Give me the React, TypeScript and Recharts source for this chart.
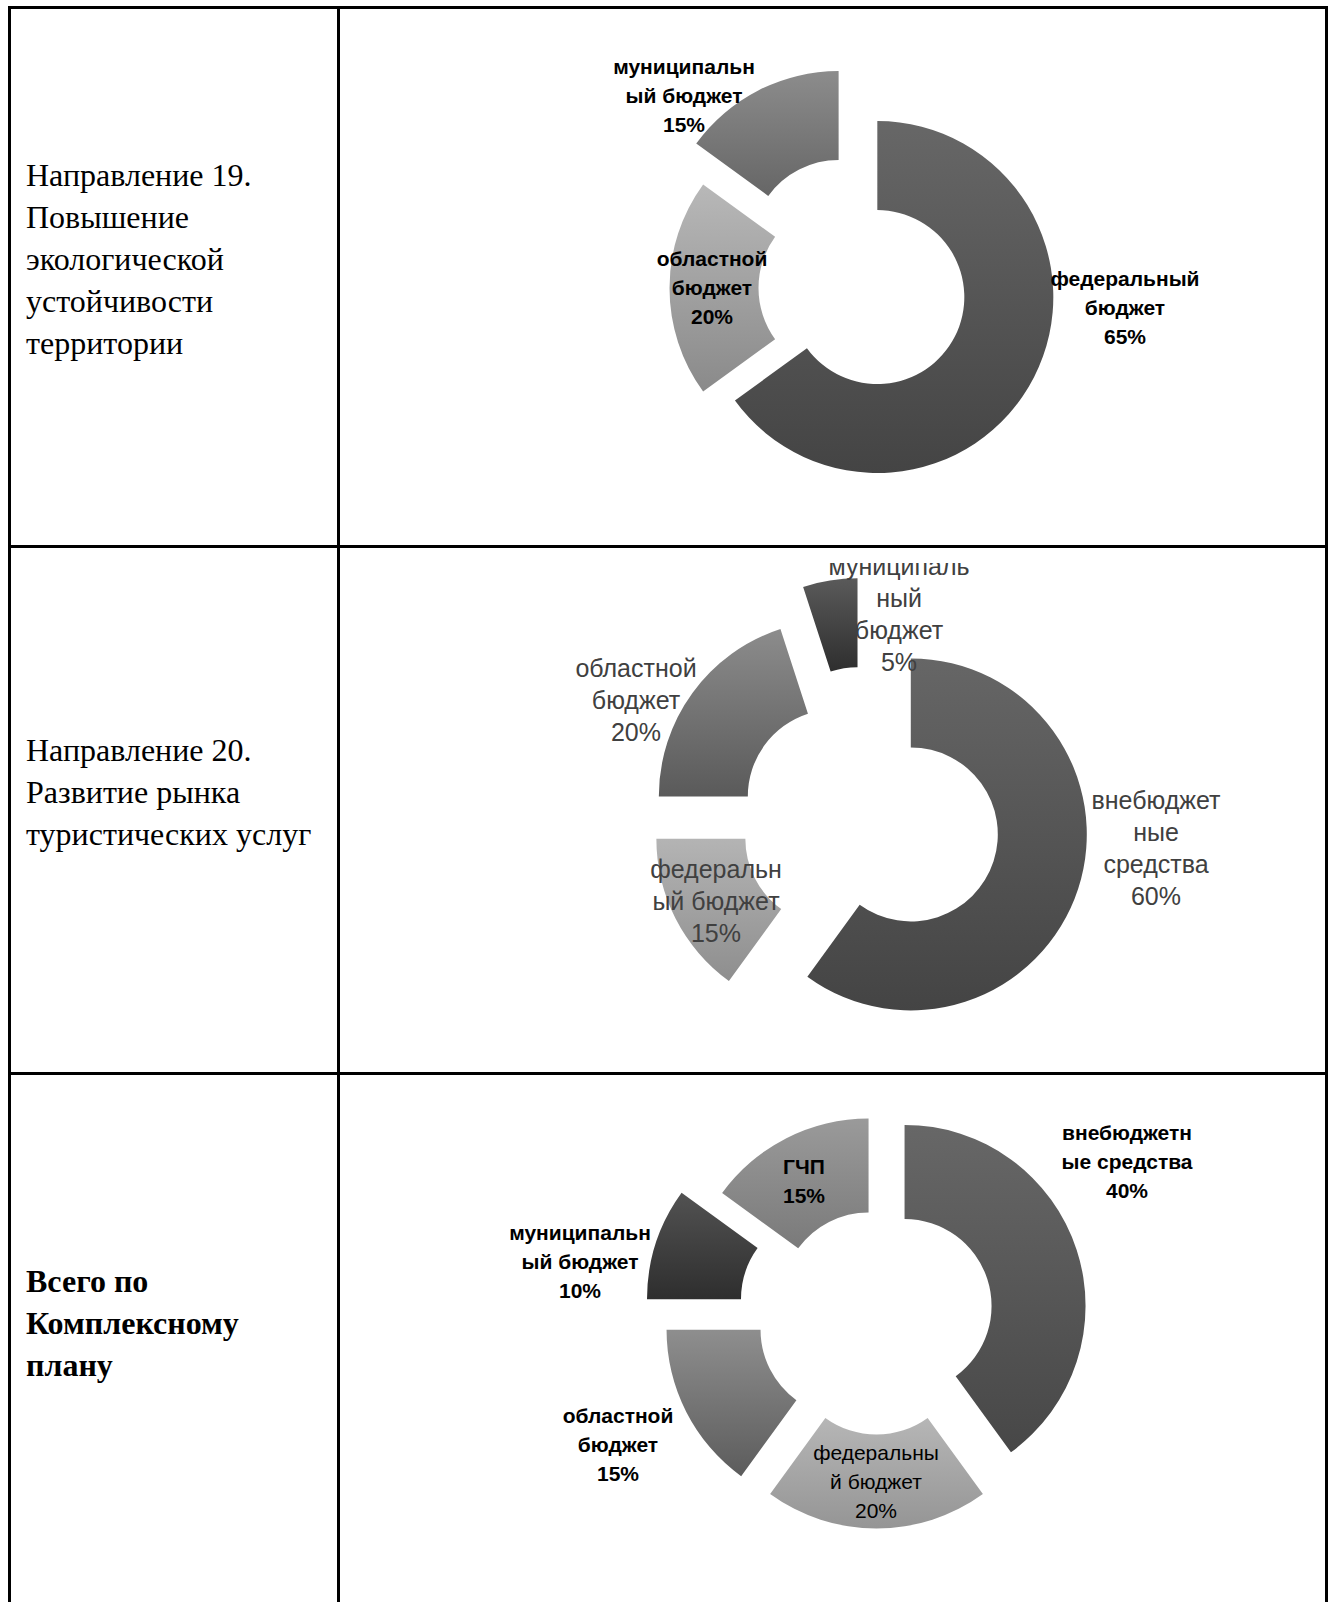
import { Cell, Pie, PieChart } from 'recharts';

// Направление 19
const CATS_1 = ['федеральный бюджет', 'областной бюджет', 'муниципальный бюджет'];
const VALUES_1 = [65, 20, 15];
const LINES_1 = [['федеральный', 'бюджет'], ['областной', 'бюджет'], ['муниципальн', 'ый бюджет']];

// Направление 20
const CATS_2 = ['внебюджетные средства', 'федеральный бюджет', 'областной бюджет', 'муниципальный бюджет'];
const VALUES_2 = [60, 15, 20, 5];
const LINES_2 = [['внебюджет', 'ные', 'средства'], ['федеральн', 'ый бюджет'], ['областной', 'бюджет'], ['муниципаль', 'ный', 'бюджет']];

// Всего по Комплексному плану
const CATS_3 = ['внебюджетные средства', 'федеральный бюджет', 'областной бюджет', 'муниципальный бюджет', 'ГЧП'];
const VALUES_3 = [40, 20, 15, 10, 15];
const LINES_3 = [['внебюджетн', 'ые средства'], ['федеральны', 'й бюджет'], ['областной', 'бюджет'], ['муниципальн', 'ый бюджет'], ['ГЧП']];

type Style = {
  id: string;
  top: number;
  height: number;
  cx: number;
  cy: number;
  inner: number;
  outer: number;
  explode: number[];
  grads: [string, string][];
  labelOffset: [number, number][];
  fontSize: number;
  lineGap: number;
  weights: number[];
  color: string;
};

const LEFT = 340;
const WIDTH = 985;

const STYLE_1: Style = {
  id: 'c1',
  top: 9,
  height: 536,
  cx: 854.5 - LEFT,
  cy: 283 - 9,
  inner: 87,
  outer: 176,
  explode: [20, 14, 46],
  grads: [['#676767', '#444444'], ['#b8b8b8', '#8a8a8a'], ['#8c8c8c', '#666666']],
  labelOffset: [[265.5, 19], [-147.5, -1], [-175.5, -193]],
  fontSize: 21,
  lineGap: 29,
  weights: [700, 700, 700],
  color: '#000',
};

const STYLE_2: Style = {
  id: 'c2',
  top: 563,
  height: 509,
  cx: 863 - LEFT,
  cy: 815.5 - 563,
  inner: 87,
  outer: 176,
  explode: [45, 40, 41, 67],
  grads: [['#666666', '#444444'], ['#b4b4b4', '#8e8e8e'], ['#8c8c8c', '#5a5a5a'], ['#5a5a5a', '#2e2e2e']],
  labelOffset: [[288, 27.5], [-152, 80.5], [-232, -120.5], [31, -206.5]],
  fontSize: 25,
  lineGap: 32,
  weights: [400, 400, 400, 400],
  color: '#404040',
};

const STYLE_3: Style = {
  id: 'c3',
  top: 1075,
  height: 527,
  cx: 871.5 - LEFT,
  cy: 1310 - 1075,
  inner: 87,
  outer: 181,
  explode: [29.5, 32.5, 32.5, 51, 17.5],
  grads: [['#676767', '#474747'], ['#b6b6b6', '#959595'], ['#8e8e8e', '#5c5c5c'], ['#525252', '#2e2e2e'], ['#9a9a9a', '#7a7a7a']],
  labelOffset: [[250.5, -154], [-0.5, 166], [-258.5, 129], [-296.5, -54], [-72.5, -135]],
  fontSize: 21,
  lineGap: 29,
  weights: [700, 400, 700, 700, 700],
  color: '#000',
};

// shift of an exploded slice along its middle angle (clockwise from 12 o'clock)
function shiftOf(values: number[], i: number, d: number) {
  const total = values.reduce((a, b) => a + b, 0);
  const before = values.slice(0, i).reduce((a, b) => a + b, 0);
  const t = ((before + values[i] / 2) / total) * Math.PI * 2;
  return { dx: d * Math.sin(t), dy: -d * Math.cos(t) };
}

function Donut({ cats, values, lines, st }: { cats: string[]; values: number[]; lines: string[][]; st: Style }) {
  const data = cats.map((name, i) => ({ name, value: values[i] }));

  return (
    <div style={{ position: 'absolute', left: LEFT, top: st.top, width: WIDTH, height: st.height, overflow: 'hidden' }}>
      <PieChart width={WIDTH} height={st.height}>
        <defs>
          {st.grads.map(([a, b], i) => (
            <linearGradient key={i} id={`${st.id}-g${i}`} x1="0" y1="0" x2="0" y2="1">
              <stop offset="0%" stopColor={a} />
              <stop offset="100%" stopColor={b} />
            </linearGradient>
          ))}
        </defs>
        {data.map((_, k) => {
          const s = shiftOf(values, k, st.explode[k]);
          return (
            <Pie
              key={k}
              data={data}
              dataKey="value"
              nameKey="name"
              cx={st.cx + s.dx}
              cy={st.cy + s.dy}
              innerRadius={st.inner}
              outerRadius={st.outer}
              startAngle={90}
              endAngle={-270}
              stroke="none"
              isAnimationActive={false}
              labelLine={false}
              label={(p: any) => {
                if (p.index !== k) return null;
                const x = p.cx - s.dx + st.labelOffset[k][0];
                const y = p.cy - s.dy + st.labelOffset[k][1];
                const rows = [...lines[k], `${Math.round(p.percent * 100)}%`];
                return (
                  <text
                    key={`l${k}`}
                    textAnchor="middle"
                    dominantBaseline="central"
                    fontFamily="'Liberation Sans', Arial, sans-serif"
                    fontSize={st.fontSize}
                    fontWeight={st.weights[k]}
                    fill={st.color}
                  >
                    {rows.map((r, j) => (
                      <tspan key={j} x={x} y={y + (j - (rows.length - 1) / 2) * st.lineGap}>
                        {r}
                      </tspan>
                    ))}
                  </text>
                );
              }}
            >
              {data.map((_, i) => (
                <Cell key={i} fill={i === k ? `url(#${st.id}-g${i})` : 'none'} stroke="none" />
              ))}
            </Pie>
          );
        })}
      </PieChart>
    </div>
  );
}

const line = (left: number, top: number, width: number, height: number) => (
  <div style={{ position: 'absolute', left, top, width, height, background: '#000' }} />
);

const textStyle = {
  position: 'absolute' as const,
  left: 26,
  fontFamily: "'Liberation Serif', 'Times New Roman', serif",
  fontSize: 32,
  lineHeight: '42px',
  color: '#000',
  whiteSpace: 'nowrap' as const,
};

export default function App() {
  return (
    <div style={{ position: 'absolute', left: 0, top: 0, width: 1332, height: 1602, background: '#fff', overflow: 'hidden' }}>
      {line(8, 6, 1320, 3)}
      {line(8, 6, 3, 1596)}
      {line(1325, 6, 3, 1596)}
      {line(337, 6, 3, 1596)}
      {line(8, 545, 1320, 3)}
      {line(8, 1072, 1320, 3)}

      <div style={{ ...textStyle, top: 154 }}>
        Направление 19.<br />Повышение<br />экологической<br />устойчивости<br />территории
      </div>
      <div style={{ ...textStyle, top: 729 }}>
        Направление 20.<br />Развитие рынка<br />туристических услуг
      </div>
      <div style={{ ...textStyle, top: 1260, fontWeight: 700 }}>
        Всего по<br />Комплексному<br />плану
      </div>

      <Donut cats={CATS_1} values={VALUES_1} lines={LINES_1} st={STYLE_1} />
      <Donut cats={CATS_2} values={VALUES_2} lines={LINES_2} st={STYLE_2} />
      <Donut cats={CATS_3} values={VALUES_3} lines={LINES_3} st={STYLE_3} />
    </div>
  );
}
